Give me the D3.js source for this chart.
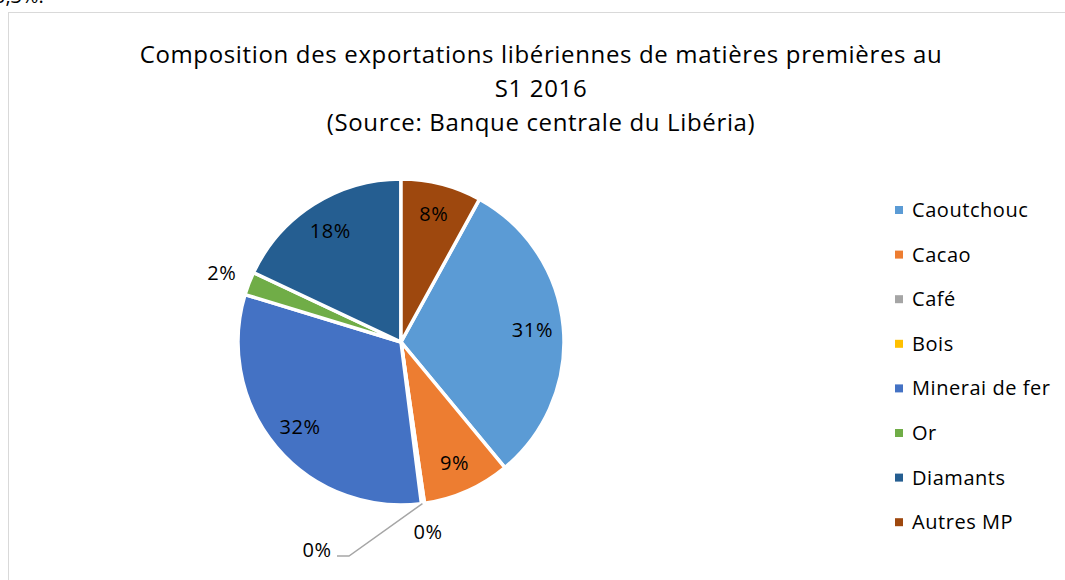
<!DOCTYPE html>
<html>
<head>
<meta charset="utf-8">
<title>Composition des exportations libériennes</title>
<script src="https://cdn.jsdelivr.net/npm/d3@7"></script>
<style>
  body { margin: 0; background: #fff; }
  svg { display: block; font-family: "Open Sans", "Noto Sans", sans-serif; }
</style>
</head>
<body>
<div id="chart"></div>
<script>
// data (shares, %)
const categories = ["Caoutchouc", "Cacao", "Café", "Bois", "Minerai de fer", "Or", "Diamants", "Autres MP"];
const values = [31.0, 8.7, 0.1, 0.2, 31.7, 2.3, 18.0, 8.0];
const colors = ["#5B9BD5", "#ED7D31", "#A5A5A5", "#FFC000", "#4472C4", "#70AD47", "#255E91", "#9E480E"];
const titleLines = ["Composition des exportations libériennes de matières premières au", "S1 2016", "(Source: Banque centrale du Libéria)"];

const W = 1065, H = 580;
const cx = 401, cy = 342, r = 163;

const svg = d3.select("#chart").append("svg")
    .attr("width", W)
    .attr("height", H);

// clipped text from the document above the chart
svg.append("text")
    .attr("x", -6).attr("y", 3)
    .attr("font-size", 20)
    .attr("fill", "#000")
    .text("0,3%.");

// chart area border
svg.append("rect")
    .attr("x", 8.5).attr("y", 12.5)
    .attr("width", 1100).attr("height", 620)
    .attr("fill", "none")
    .attr("stroke", "#D9D9D9");

// title
svg.append("g")
    .selectAll("text")
    .data(titleLines)
    .join("text")
    .attr("x", 541)
    .attr("y", (d, i) => 63 + i * 34)
    .attr("text-anchor", "middle")
    .attr("font-size", 24)
    .attr("letter-spacing", 0.65)
    .attr("fill", "#000")
    .text(d => d);

const total = d3.sum(values);
const pct = d3.format(".0%");

// Excel-like rotation: last slice ends at 12 o'clock
const offset = 2 * Math.PI * values[values.length - 1] / total;
const pie = d3.pie().sort(null)
    .startAngle(offset)
    .endAngle(offset + 2 * Math.PI);
const arcs = pie(values);

const arc = d3.arc().innerRadius(0).outerRadius(r);
const g = svg.append("g").attr("transform", `translate(${cx},${cy})`);

g.selectAll("path")
    .data(arcs)
    .join("path")
    .attr("d", arc)
    .attr("fill", (d, i) => colors[i])
    .attr("stroke", "#fff")
    .attr("stroke-width", 3.5)
    .attr("stroke-linejoin", "round");

// label placement
const inside = d3.arc().innerRadius(132).outerRadius(132);
const outside = d3.arc().innerRadius(192).outerRadius(192);
const edge = d3.arc().innerRadius(r).outerRadius(r);

function labelPos(d, i) {
    const share = d.data / total;
    if (share > 0.05) return inside.centroid(d);
    if (i === 3) return [-84, 208]; // Bois: pulled away, with leader
    return outside.centroid(d);
}

// leader line for the Bois label
const bois = arcs[3];
const e = edge.centroid(bois);
g.append("polyline")
    .attr("points", [e, [-52, 214], [-64, 214]].map(p => p.join(",")).join(" "))
    .attr("fill", "none")
    .attr("stroke", "#A6A6A6")
    .attr("stroke-width", 1.5);

g.selectAll("text.lbl")
    .data(arcs)
    .join("text")
    .attr("class", "lbl")
    .attr("transform", (d, i) => `translate(${labelPos(d, i)})`)
    .attr("text-anchor", "middle")
    .attr("dy", "0.35em")
    .attr("font-size", 20)
    .attr("letter-spacing", 0.6)
    .attr("fill", "#000")
    .text(d => pct(d.data / total));

// legend
const legend = svg.append("g").attr("transform", "translate(895,210)");
const rows = legend.selectAll("g")
    .data(categories)
    .join("g")
    .attr("transform", (d, i) => `translate(0,${i * 44.6})`);
rows.append("rect")
    .attr("x", 0).attr("y", -4)
    .attr("width", 8).attr("height", 8)
    .attr("fill", (d, i) => colors[i]);
rows.append("text")
    .attr("x", 17)
    .attr("dy", "0.35em")
    .attr("font-size", 20)
    .attr("letter-spacing", 0.55)
    .attr("fill", "#000")
    .text(d => d);
</script>
</body>
</html>
